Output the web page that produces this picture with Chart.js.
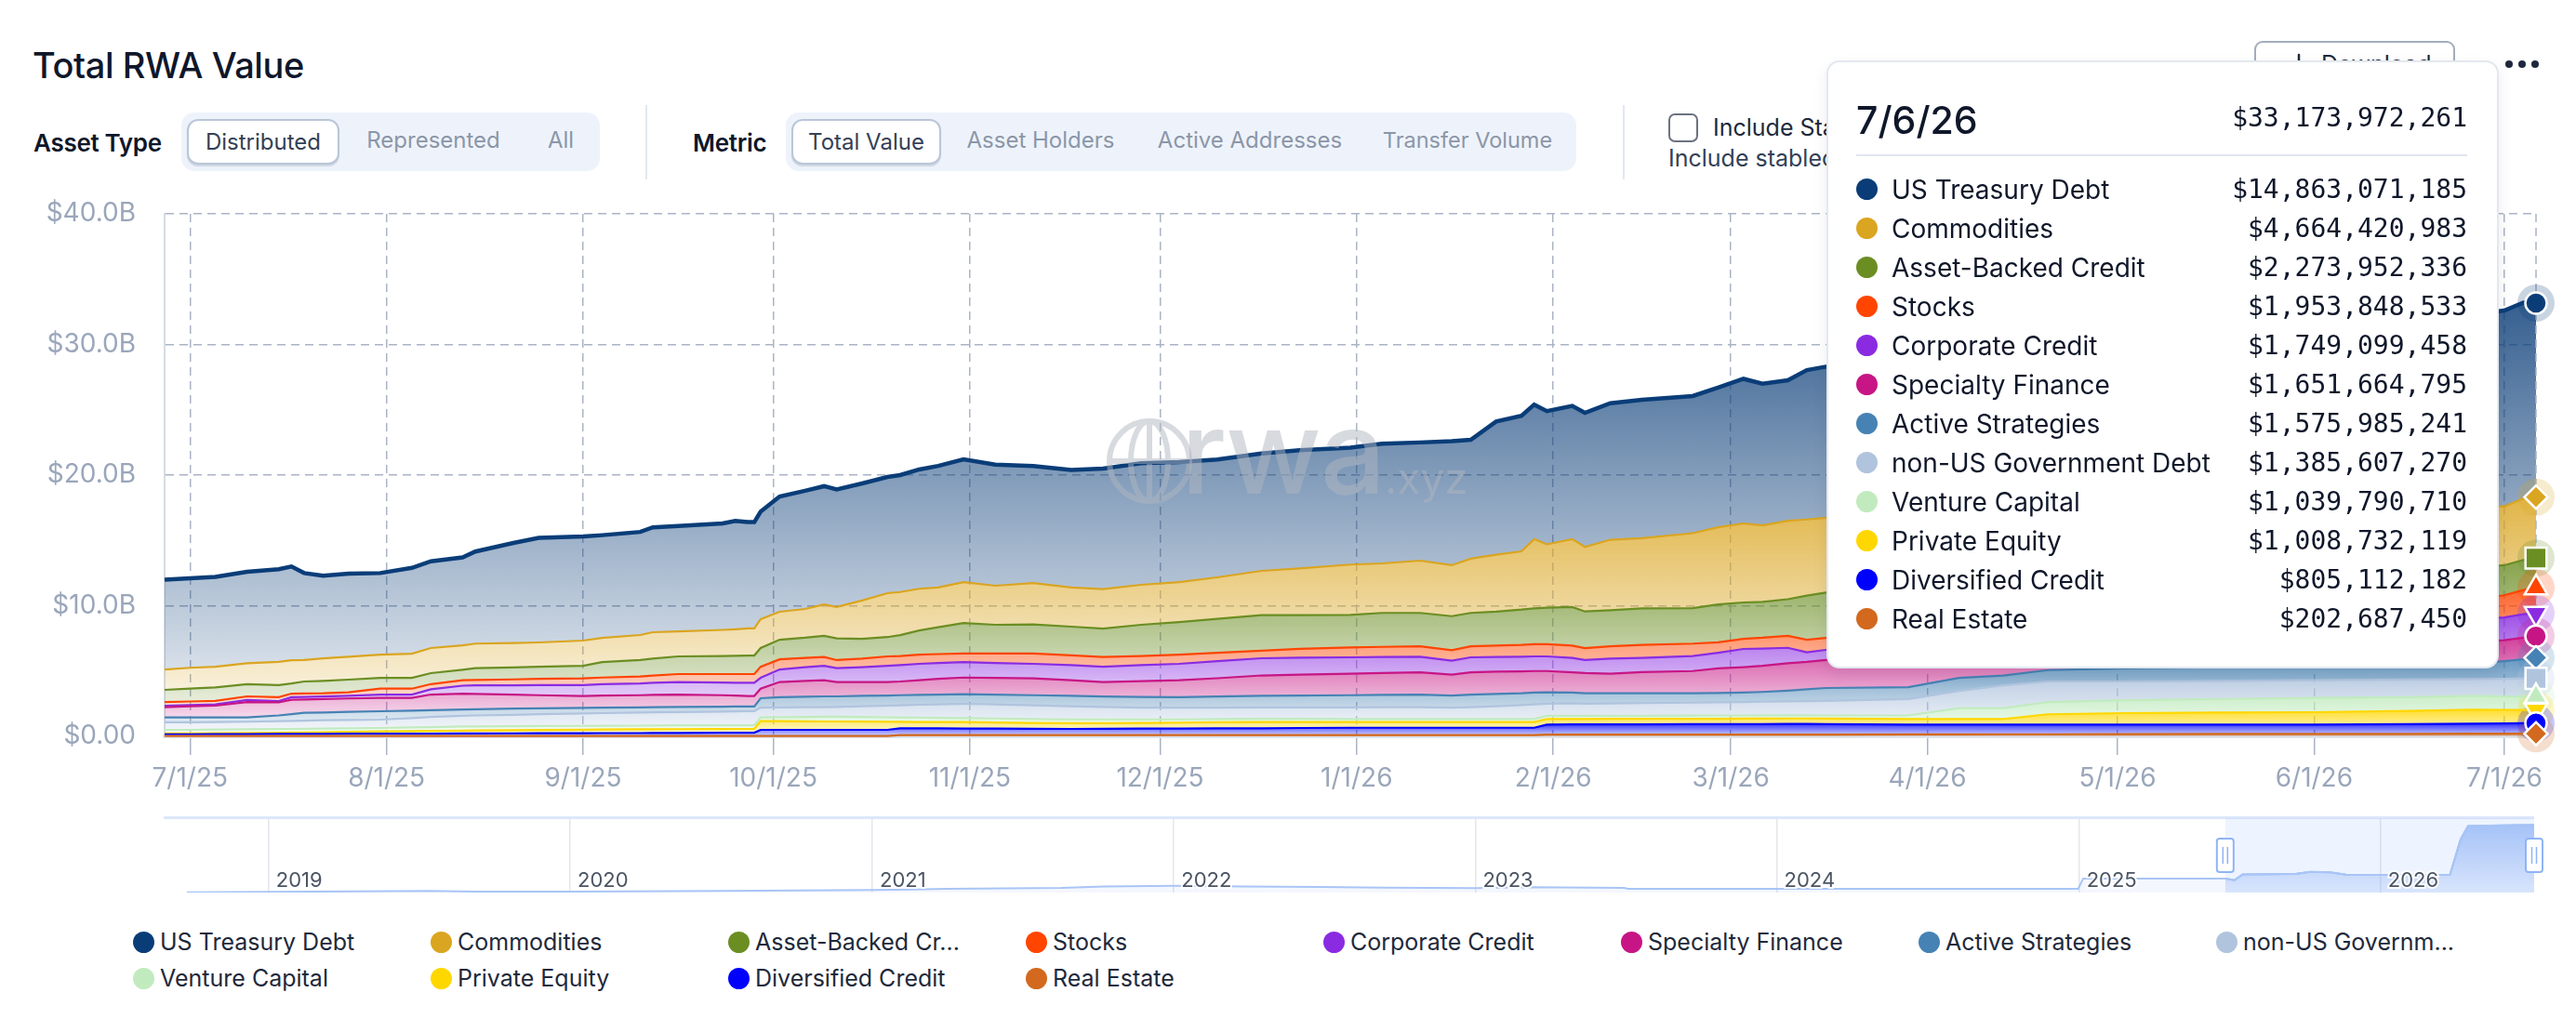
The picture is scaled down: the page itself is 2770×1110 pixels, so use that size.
<!DOCTYPE html>
<html lang="en">
<head>
<meta charset="utf-8">
<title>Total RWA Value</title>
<script src="https://cdn.jsdelivr.net/npm/chart.js@4.4.1/dist/chart.umd.min.js"></script>
<style>
*{box-sizing:border-box;}
html,body{margin:0;padding:0;background:#ffffff;}
body{width:2770px;height:1110px;position:relative;overflow:hidden;font-family:Inter,"Noto Sans",sans-serif;color:#0f172a;}
.a{position:absolute;white-space:nowrap;}
#title{left:35px;top:42px;font-size:38px;line-height:56px;font-weight:500;letter-spacing:-0.4px;color:#0f172a;}
.lab{top:139px;font-size:26px;line-height:30px;font-weight:600;color:#0f172a;letter-spacing:-0.3px;}
.grp{top:121px;height:63px;background:#eef3fb;border-radius:14px;}
.seg{position:absolute;top:7px;height:49px;line-height:46px;font-size:24px;color:#8b96a8;text-align:center;white-space:nowrap;}
.seg.off{transform:translateX(-50%);}
.seg.on{background:#fff;border:2px solid #bac6d8;border-radius:12px;color:#334155;box-shadow:0 2px 1px rgba(100,116,139,.22);}
.vsep{top:113px;width:2px;height:80px;background:#e2e8f0;}
#chk{left:1794px;top:122px;width:32px;height:31px;border:2.5px solid #6b7280;border-radius:7px;background:#fff;}
.inc{font-size:25px;line-height:30px;color:#1e293b;}
#dl{left:2424px;top:44px;width:216px;height:50px;border:2px solid #a3adbd;border-radius:9px;background:#fff;font-size:25px;line-height:46px;color:#1e293b;padding-left:70px;}
#dl svg{position:absolute;left:34px;top:11px;}
.dot3{width:8px;height:8px;border-radius:50%;background:#1e293b;top:65px;}
#main{left:0;top:200px;width:2770px;height:660px;}
#mini{left:0;top:870px;width:2770px;height:100px;}
#slTop{left:176px;top:878px;width:2549px;height:3px;background:#dce7fb;}
#wm{left:1270px;top:424px;font-family:Inter,sans-serif;color:rgba(176,182,192,0.5);pointer-events:none;}
#wm .r{font-size:124px;line-height:124px;font-weight:500;letter-spacing:-1px;}
#wm .x{font-size:46px;line-height:46px;font-weight:400;}
#globe{left:1186px;top:446px;pointer-events:none;}
#tip{left:1964px;top:65px;width:723px;height:654px;background:#fff;border:2px solid #e3e8ef;border-radius:14px;box-shadow:0 6px 16px rgba(15,23,42,.08);z-index:10;}
#tipDate{position:absolute;left:30px;top:37px;font-size:41px;line-height:50px;font-weight:500;color:#0f172a;}
#tipTotal{position:absolute;right:32px;top:42px;font-family:"DejaVu Sans Mono",monospace;font-size:28px;line-height:36px;color:#0f172a;}
#tipSep{position:absolute;left:30px;right:32px;top:99px;height:2px;background:#dfe6ef;}
.trow{position:absolute;left:30px;right:32px;height:36px;line-height:36px;}
.tdot{position:absolute;left:0;top:6px;width:23px;height:23px;border-radius:50%;}
.tname{position:absolute;left:38px;top:0;font-size:28px;color:#0f172a;}
.tval{position:absolute;right:0;top:0;font-family:"DejaVu Sans Mono",monospace;font-size:28px;color:#0f172a;}
.li{position:absolute;height:30px;line-height:30px;white-space:nowrap;}
.ldot{position:absolute;left:0;top:3.5px;width:23px;height:23px;border-radius:50%;}
.ltxt{position:absolute;left:29px;top:0;font-size:25px;color:#1e293b;}
</style>
</head>
<body>
<div id="title" class="a">Total RWA Value</div>

<div class="a lab" style="left:36px;">Asset Type</div>
<div class="a grp" style="left:195px;width:450px;">
  <div class="seg on" style="left:6px;width:164px;">Distributed</div>
  <div class="seg off" style="left:271px;">Represented</div>
  <div class="seg off" style="left:408px;">All</div>
</div>
<div class="a vsep" style="left:694px;"></div>
<div class="a lab" style="left:745px;">Metric</div>
<div class="a grp" style="left:845px;width:850px;">
  <div class="seg on" style="left:6px;width:161px;">Total Value</div>
  <div class="seg off" style="left:274px;">Asset Holders</div>
  <div class="seg off" style="left:499px;">Active Addresses</div>
  <div class="seg off" style="left:733px;font-size:23.5px;">Transfer Volume</div>
</div>
<div class="a vsep" style="left:1745px;"></div>
<div id="chk" class="a"></div>
<div class="a inc" style="left:1842px;top:122px;">Include Stablecoins</div>
<div class="a inc" style="left:1794px;top:155px;color:#334155;">Include stablecoins in total value</div>
<div id="dl" class="a"><svg width="24" height="28" viewBox="0 0 24 28"><g fill="none" stroke="#1e293b" stroke-width="2.5" stroke-linecap="round"><line x1="12" y1="2" x2="12" y2="18"/><polyline points="5,12 12,19 19,12"/><line x1="3" y1="25" x2="21" y2="25"/></g></svg>Download</div>
<div class="a dot3" style="left:2694px;"></div>
<div class="a dot3" style="left:2708px;"></div>
<div class="a dot3" style="left:2722px;"></div>

<div id="main" class="a"><canvas id="c1"></canvas></div>

<svg id="globe" class="a" width="100" height="100" viewBox="0 0 100 100"><g opacity="0.5" fill="none" stroke="#b0b6c0" stroke-width="6"><circle cx="50" cy="50" r="43"/><ellipse cx="50" cy="50" rx="20" ry="43"/><line x1="50" y1="7" x2="50" y2="93"/><line x1="7" y1="50" x2="93" y2="50"/></g></svg>
<div id="wm" class="a"><span class="r">rwa</span><span class="x">.xyz</span></div>

<div id="slTop" class="a"></div>
<div id="mini" class="a"><canvas id="c2"></canvas></div>

<div id="tip" class="a">
  <div id="tipDate"></div>
  <div id="tipTotal"></div>
  <div id="tipSep"></div>
  <div id="tipRows"></div>
</div>

<div id="legend"></div>

<script>
// ---------------- DATA ----------------
const DATES = [
'2025-06-27','2025-07-01','2025-07-05','2025-07-10','2025-07-15','2025-07-17','2025-07-19','2025-07-22','2025-07-26','2025-07-31',
'2025-08-05','2025-08-08','2025-08-13','2025-08-15','2025-08-21','2025-08-25','2025-09-01','2025-09-04','2025-09-10','2025-09-12',
'2025-09-16','2025-09-23','2025-09-25','2025-09-27','2025-09-28','2025-09-29','2025-10-02','2025-10-06','2025-10-09','2025-10-11',
'2025-10-15','2025-10-19','2025-10-21','2025-10-24','2025-10-27','2025-10-31','2025-11-05','2025-11-11','2025-11-17','2025-11-22',
'2025-11-28','2025-12-04','2025-12-10','2025-12-17','2025-12-23','2025-12-31','2026-01-05','2026-01-11','2026-01-16','2026-01-19',
'2026-01-23','2026-01-27','2026-01-29','2026-01-31','2026-02-04','2026-02-06','2026-02-10','2026-02-15','2026-02-23','2026-02-27',
'2026-03-03','2026-03-06','2026-03-10','2026-03-13','2026-03-16','2026-03-29','2026-04-06','2026-04-13','2026-04-20','2026-05-02',
'2026-05-17','2026-06-01','2026-06-16','2026-06-26','2026-07-01','2026-07-04','2026-07-06'];

// values in billions of USD
const US_TREASURY_DEBT = [
6.88,6.85,6.87,7.00,7.10,7.17,6.65,6.33,6.35,6.24,
6.57,6.64,6.73,7.05,7.65,8.01,7.97,7.86,7.89,8.03,
8.06,8.15,8.30,8.14,8.14,8.23,8.82,9.05,9.05,9.00,
8.96,8.90,8.95,9.13,9.30,9.40,9.27,8.96,9.00,9.23,
9.30,9.20,9.03,8.98,9.05,8.95,9.16,9.05,9.50,9.10,
10.20,10.39,10.30,10.20,10.20,10.27,10.45,10.60,10.50,10.70,
11.07,10.85,10.76,11.44,11.57,11.70,11.95,12.25,12.45,12.85,
13.30,13.85,14.40,14.75,15.00,15.00,14.863071185];
const COMMODITIES = [
1.56,1.60,1.58,1.60,1.77,1.78,1.65,1.72,1.76,1.78,
1.85,1.92,1.87,1.88,1.87,1.86,1.93,1.85,1.92,2.02,
1.92,2.00,2.03,2.07,2.07,2.21,2.14,2.20,2.40,2.40,
2.93,3.36,3.30,3.20,3.05,3.12,2.99,3.17,3.00,3.02,
3.06,3.05,3.17,3.39,3.57,3.85,3.79,4.00,3.90,4.15,
4.35,4.46,5.30,4.85,5.20,4.94,5.40,5.38,5.73,5.90,
6.05,5.85,6.00,5.83,5.73,5.60,5.55,5.45,5.35,5.25,
5.10,4.95,4.80,4.65,4.50,4.70,4.664420983];
const ASSET_BACKED_CREDIT = [
0.93,0.98,1.03,0.94,0.93,0.78,0.92,0.95,0.97,0.83,
0.83,0.84,0.80,0.90,0.92,0.93,0.96,1.19,1.26,1.30,
1.35,1.38,1.40,1.42,1.42,1.43,1.50,1.55,1.63,1.66,
1.52,1.48,1.60,1.84,2.05,2.33,2.19,2.22,2.20,2.18,
2.39,2.49,2.60,2.73,2.58,2.50,2.60,2.55,2.60,2.55,
2.60,2.70,2.75,2.80,2.95,2.80,2.75,2.79,2.72,2.90,
2.78,2.75,2.80,3.37,3.46,3.50,3.50,3.50,3.50,3.40,
3.20,2.90,2.60,2.40,2.30,2.30,2.273952336];
const STOCKS = [
0.28,0.27,0.27,0.28,0.30,0.27,0.26,0.25,0.27,0.45,
0.45,0.40,0.42,0.42,0.46,0.48,0.51,0.50,0.53,0.55,
0.61,0.65,0.67,0.67,0.67,0.85,0.78,0.70,0.67,0.62,
0.65,0.72,0.70,0.71,0.68,0.66,0.73,0.80,0.75,0.74,
0.70,0.71,0.65,0.57,0.68,0.75,0.77,0.80,0.81,0.85,
0.87,0.90,0.93,0.93,0.95,0.92,0.95,1.00,0.95,0.80,
0.78,0.83,0.92,0.97,0.92,1.00,1.00,1.10,1.20,1.20,
1.20,1.30,1.40,1.50,1.70,1.85,1.953848533];
const CORPORATE_CREDIT = [
0.11,0.10,0.10,0.15,0.10,0.20,0.20,0.20,0.20,0.25,
0.25,0.40,0.61,0.65,0.70,0.77,0.84,0.88,0.90,0.92,
0.96,0.97,0.98,1.01,1.01,0.83,0.96,1.05,1.10,1.06,
1.14,1.24,1.25,1.25,1.22,1.19,1.15,1.11,1.15,1.17,
1.23,1.25,1.30,1.32,1.30,1.25,1.23,1.20,1.07,1.15,
1.13,1.12,1.12,1.12,1.10,0.99,1.15,1.08,1.15,1.20,
1.39,1.32,1.18,0.73,0.78,0.80,0.80,0.80,0.80,0.90,
1.10,1.30,1.50,1.70,1.74,1.80,1.749099458];
const SPECIALTY_FINANCE = [
0.79,0.85,0.90,1.18,1.00,1.10,1.02,1.02,1.02,1.03,
0.98,1.20,1.21,1.17,1.08,1.00,0.91,0.92,0.93,0.95,
0.95,0.88,0.84,0.81,0.81,0.73,1.16,1.21,1.24,1.10,
1.06,1.04,1.05,1.12,1.20,1.27,1.27,1.29,1.20,1.11,
1.20,1.30,1.40,1.56,1.60,1.65,1.68,1.70,1.60,1.70,
1.70,1.68,1.65,1.63,1.55,1.55,1.50,1.62,1.70,1.88,
1.95,2.00,2.10,2.10,2.14,2.23,1.72,1.65,1.33,1.40,
1.50,1.60,1.70,1.70,1.60,1.65,1.651664795];
const ACTIVE_STRATEGIES = [
0.38,0.37,0.35,0.33,0.44,0.52,0.60,0.60,0.63,0.64,
0.57,0.52,0.49,0.48,0.47,0.45,0.43,0.42,0.40,0.39,
0.39,0.37,0.37,0.36,0.36,0.72,0.78,0.81,0.82,0.81,
0.80,0.77,0.77,0.76,0.75,0.74,0.75,0.77,0.80,0.80,
0.82,0.80,0.85,0.89,0.90,0.93,0.94,0.96,0.92,0.96,
0.95,0.90,0.90,0.87,0.82,0.80,0.78,0.75,0.72,0.72,
0.72,0.75,0.82,0.90,0.98,0.91,1.00,0.75,0.87,1.00,
1.05,1.10,1.15,1.22,1.36,1.48,1.575985241];
const NON_US_GOVERNMENT_DEBT = [
0.57,0.58,0.58,0.58,0.60,0.61,0.62,0.63,0.63,0.64,
0.72,0.78,0.82,0.84,0.87,0.91,0.95,0.97,1.00,1.01,
1.02,1.05,1.06,1.07,1.07,0.75,0.75,0.74,0.74,0.75,
0.82,0.89,0.93,0.98,1.03,1.09,1.08,1.05,1.00,0.95,
0.90,0.90,0.88,0.86,0.88,0.89,0.90,0.91,0.87,0.91,
0.97,1.07,1.12,0.93,0.96,0.93,0.94,0.97,0.99,1.00,
1.03,1.04,1.07,1.09,1.12,1.26,1.32,1.74,1.57,1.43,
1.40,1.36,1.35,1.28,1.35,1.37,1.385607270];
const VENTURE_CAPITAL = [
0.28,0.27,0.28,0.28,0.28,0.28,0.28,0.28,0.27,0.26,
0.28,0.28,0.31,0.31,0.31,0.30,0.29,0.29,0.28,0.29,
0.29,0.29,0.28,0.28,0.28,0.29,0.31,0.34,0.36,0.36,
0.35,0.34,0.34,0.34,0.32,0.31,0.31,0.30,0.30,0.29,
0.27,0.25,0.25,0.26,0.25,0.24,0.24,0.24,0.24,0.24,
0.24,0.24,0.24,0.24,0.24,0.24,0.24,0.24,0.24,0.25,
0.24,0.25,0.24,0.24,0.24,0.27,0.83,0.83,0.94,0.99,
1.03,1.09,1.05,1.06,1.02,1.03,1.039790710];
const PRIVATE_EQUITY = [
0.06,0.07,0.07,0.09,0.10,0.11,0.12,0.13,0.15,0.18,
0.19,0.21,0.22,0.23,0.24,0.25,0.27,0.27,0.29,0.28,
0.29,0.29,0.29,0.29,0.29,0.66,0.66,0.65,0.64,0.64,
0.63,0.62,0.49,0.48,0.49,0.49,0.47,0.45,0.43,0.43,
0.44,0.45,0.46,0.47,0.45,0.43,0.43,0.43,0.43,0.43,
0.43,0.43,0.43,0.43,0.42,0.42,0.42,0.42,0.42,0.42,
0.42,0.42,0.42,0.42,0.42,0.43,0.43,0.43,0.79,0.88,
0.92,0.95,1.02,1.07,1.04,1.02,1.008732119];
const DIVERSIFIED_CREDIT = [
0.13,0.13,0.14,0.14,0.15,0.15,0.15,0.16,0.17,0.17,
0.18,0.18,0.19,0.19,0.20,0.21,0.21,0.22,0.22,0.23,
0.23,0.24,0.25,0.25,0.25,0.47,0.47,0.47,0.47,0.47,
0.47,0.47,0.52,0.52,0.51,0.50,0.49,0.48,0.47,0.48,
0.49,0.50,0.51,0.52,0.54,0.56,0.56,0.56,0.56,0.56,
0.56,0.56,0.56,0.76,0.77,0.77,0.78,0.78,0.79,0.79,
0.80,0.80,0.81,0.81,0.80,0.75,0.75,0.74,0.74,0.73,
0.72,0.71,0.74,0.77,0.79,0.80,0.805112182];
const REAL_ESTATE = [
0.03,0.03,0.03,0.03,0.03,0.03,0.03,0.03,0.03,0.03,
0.03,0.03,0.03,0.03,0.03,0.03,0.03,0.03,0.03,0.03,
0.03,0.03,0.03,0.03,0.03,0.03,0.03,0.03,0.03,0.03,
0.03,0.03,0.10,0.10,0.10,0.10,0.10,0.10,0.10,0.10,
0.10,0.10,0.10,0.10,0.10,0.10,0.10,0.10,0.10,0.10,
0.10,0.10,0.10,0.14,0.14,0.14,0.14,0.14,0.14,0.14,
0.14,0.14,0.14,0.14,0.14,0.15,0.15,0.16,0.16,0.17,
0.18,0.19,0.19,0.20,0.20,0.20,0.202687450];

const SERIES_NAMES = ['US Treasury Debt','Commodities','Asset-Backed Credit','Stocks','Corporate Credit','Specialty Finance','Active Strategies','non-US Government Debt','Venture Capital','Private Equity','Diversified Credit','Real Estate'];
const SERIES_VALUES = [US_TREASURY_DEBT, COMMODITIES, ASSET_BACKED_CREDIT, STOCKS, CORPORATE_CREDIT, SPECIALTY_FINANCE, ACTIVE_STRATEGIES, NON_US_GOVERNMENT_DEBT, VENTURE_CAPITAL, PRIVATE_EQUITY, DIVERSIFIED_CREDIT, REAL_ESTATE];

const X_TICKS = ['2025-07-01','2025-08-01','2025-09-01','2025-10-01','2025-11-01','2025-12-01','2026-01-01','2026-02-01','2026-03-01','2026-04-01','2026-05-01','2026-06-01','2026-07-01'];
const X_TICK_LABELS = ['7/1/25','8/1/25','9/1/25','10/1/25','11/1/25','12/1/25','1/1/26','2/1/26','3/1/26','4/1/26','5/1/26','6/1/26','7/1/26'];
const Y_TICKS = [0,10,20,30,40];
const Y_TICK_LABELS = ['$0.00','$10.0B','$20.0B','$30.0B','$40.0B'];

const TOOLTIP_DATE_LABEL = '7/6/26';
const TOOLTIP_TOTAL = 33173972261;

// overview (slider) series
const MINI_DATES = ['2018-09-24','2019-01-01','2019-07-16','2019-09-08','2020-01-04','2020-07-01','2021-01-01','2021-02-14','2021-04-01','2021-08-18','2021-10-08','2022-01-01','2022-03-28','2022-06-28','2022-09-13','2023-01-01','2023-03-10','2023-06-30','2023-07-05','2024-06-30','2024-12-31','2025-01-06','2025-06-27','2025-07-08','2025-07-18','2025-09-20','2025-10-08','2025-11-01','2025-11-20','2026-01-01','2026-03-26','2026-04-08','2026-04-17','2026-05-28','2026-07-06'];
const MINI_VALUES = [0.1,0.3,0.8,0.45,0.45,0.75,1.2,1.5,1.8,2.3,3.0,3.3,3.0,2.7,2.4,2.1,2.6,2.3,1.8,1.8,1.8,6.8,6.8,6.0,8.8,9.1,10.1,9.9,8.7,8.6,8.6,26.0,32.5,32.8,33.0];
const MINI_RANGE = ['2018-08-27','2026-07-06'];
const MINI_YEARS = ['2019','2020','2021','2022','2023','2024','2025','2026'];

// ---------------- STYLE ----------------
const SERIES_COLORS = ['#0a3d78','#daa520','#6b8e23','#ff4500','#8a2be2','#c71585','#4682b4','#b0c4de','#c1ebbf','#ffd700','#0000ff','#d2691e'];
const MARKER_STYLES = ['circle','rectRot','rect','triangle','triangle','circle','rectRot','rect','triangle','triangle','circle','rectRot'];
const MARKER_ROT = [0,0,0,0,180,0,0,0,0,180,0,0];
const MARKER_R = {circle:11.5, rectRot:12.5, rect:16, triangle:14};

function rgba(hex, a){
  const n = parseInt(hex.slice(1),16);
  return 'rgba(' + ((n>>16)&255) + ',' + ((n>>8)&255) + ',' + (n&255) + ',' + a + ')';
}
const toDay = s => Date.UTC(+s.slice(0,4), +s.slice(5,7)-1, +s.slice(8,10)) / 864e5;
const X = DATES.map(toDay);
const LAST = DATES.length - 1;

// stacking order: bottom (Real Estate) first
const ORDER = [];
for (let k = SERIES_NAMES.length - 1; k >= 0; k--) ORDER.push(k);
const CUM = [];
ORDER.forEach((k, i) => {
  CUM.push(SERIES_VALUES[k].map((v, j) => v + (i ? CUM[i-1][j] : 0)));
});

function fillFor(i, color){
  return (c) => {
    const chart = c.chart;
    if (!chart.chartArea) return rgba(color, 0.4);
    const ys = chart.scales.y;
    const yTop = ys.getPixelForValue(Math.max(...CUM[i]));
    const yBot = ys.getPixelForValue(i ? Math.min(...CUM[i-1]) : 0);
    const g = chart.ctx.createLinearGradient(0, yTop, 0, Math.max(yBot, yTop + 1));
    g.addColorStop(0, rgba(color, 0.82));
    g.addColorStop(1, rgba(color, 0.16));
    return g;
  };
}

const datasets = ORDER.map((k, i) => {
  const color = SERIES_COLORS[k];
  const st = MARKER_STYLES[k];
  return {
    label: SERIES_NAMES[k],
    data: SERIES_VALUES[k].map((v, j) => ({x: X[j], y: v})),
    borderColor: color,
    borderWidth: k === 0 ? 4.5 : 2.2,
    backgroundColor: fillFor(i, color),
    fill: i === 0 ? 'origin' : '-1',
    tension: 0,
    clip: false,
    pointStyle: st,
    pointRotation: MARKER_ROT[k],
    pointBackgroundColor: color,
    pointBorderColor: '#ffffff',
    pointBorderWidth: 2.5,
    pointRadius: (c) => c.dataIndex === LAST ? MARKER_R[st] : 0,
    pointHoverRadius: 0
  };
});

const markerPlugin = {
  id: 'markerHalo',
  beforeDatasetsDraw(chart){
    const {ctx, chartArea} = chart;
    const x = chart.scales.x.getPixelForValue(X[LAST]);
    ctx.save();
    ctx.strokeStyle = '#aab4c5'; ctx.lineWidth = 1.5; ctx.setLineDash([9,6]);
    ctx.beginPath(); ctx.moveTo(x, chartArea.top); ctx.lineTo(x, chartArea.bottom); ctx.stroke();
    ctx.setLineDash([]);
    for (let i = chart.data.datasets.length - 1; i >= 0; i--) {
      const el = chart.getDatasetMeta(i).data[LAST];
      if (!el) continue;
      ctx.fillStyle = rgba(chart.data.datasets[i].borderColor, 0.22);
      ctx.beginPath(); ctx.arc(el.x, el.y, 20, 0, Math.PI*2); ctx.fill();
    }
    ctx.restore();
  }
};

Chart.defaults.font.family = 'Inter';
new Chart(document.getElementById('c1'), {
  type: 'line',
  data: { datasets },
  options: {
    responsive: true, maintainAspectRatio: false, animation: false, devicePixelRatio: 1,
    events: [],
    layout: { padding: { top: 30, right: 43, left: 0, bottom: 0 } },
    plugins: { legend: {display:false}, tooltip: {enabled:false}, filler: {drawTime: 'beforeDatasetsDraw'} },
    scales: {
      x: {
        type: 'linear', min: X[0], max: X[LAST],
        afterBuildTicks: s => { s.ticks = X_TICKS.map(d => ({value: toDay(d)})); },
        afterFit: s => { s.height = 68; s.paddingLeft = 0; s.paddingRight = 0; },
        ticks: { autoSkip:false, maxRotation:0, padding:9, color:'#9aa6ba', font:{size:28}, callback: (v, i) => X_TICK_LABELS[i] },
        grid: { color:'#aab4c5', lineWidth:1.5, drawTicks:true, tickLength:20, tickColor:'#aab4c5', tickWidth:1.5, tickBorderDash:[] },
        border: { display:true, color:'#dde3ec', width:4, dash:[9,6] }
      },
      y: {
        stacked: true, min: 0, max: 40,
        afterBuildTicks: s => { s.ticks = Y_TICKS.map(v => ({value: v})); },
        afterFit: s => { s.width = 177; s.paddingTop = 0; s.paddingBottom = 0; },
        ticks: { padding:31, color:'#9aa6ba', font:{size:28}, callback: (v, i) => Y_TICK_LABELS[i] },
        grid: { color:'#aab4c5', lineWidth:1.5, drawTicks:false },
        border: { display:true, color:'#d5dbe4', width:2, dash:[9,6] }
      }
    }
  },
  plugins: [markerPlugin]
});

// ---------------- overview slider ----------------
const miniAll = MINI_DATES.map((d, i) => ({x: toDay(d), y: MINI_VALUES[i]}));
const selStart = X[0], selEnd = X[LAST];
const miniSel = miniAll.filter(p => p.x >= selStart);
const sliderPlugin = {
  id: 'slider',
  beforeDatasetsDraw(chart){
    const {ctx, chartArea: a} = chart; const xs = chart.scales.x;
    const x0 = xs.getPixelForValue(selStart), x1 = xs.getPixelForValue(selEnd);
    ctx.save(); ctx.fillStyle = 'rgba(135,175,255,0.14)';
    ctx.fillRect(x0, a.top, x1 - x0, a.bottom - a.top); ctx.restore();
  },
  afterDatasetsDraw(chart){
    const {ctx, chartArea: a} = chart; const xs = chart.scales.x;
    ctx.save();
    ctx.font = '22px Inter'; ctx.textBaseline = 'middle';
    MINI_YEARS.forEach(y => {
      const x = xs.getPixelForValue(toDay(y + '-01-01')) + 8;
      ctx.lineWidth = 4; ctx.strokeStyle = 'rgba(255,255,255,0.9)'; ctx.strokeText(y, x, a.bottom - 13);
      ctx.fillStyle = '#4b5563'; ctx.fillText(y, x, a.bottom - 13);
    });
    [selStart, selEnd].forEach(v => {
      const x = xs.getPixelForValue(v);
      ctx.fillStyle = '#ffffff'; ctx.strokeStyle = '#8fb4f5'; ctx.lineWidth = 2;
      ctx.beginPath(); ctx.roundRect(x - 9, a.top + 22, 18, 36, 3); ctx.fill(); ctx.stroke();
      ctx.lineWidth = 1.5; ctx.beginPath();
      ctx.moveTo(x - 2.5, a.top + 31); ctx.lineTo(x - 2.5, a.top + 49);
      ctx.moveTo(x + 2.5, a.top + 31); ctx.lineTo(x + 2.5, a.top + 49);
      ctx.stroke();
    });
    ctx.restore();
  }
};
new Chart(document.getElementById('c2'), {
  type: 'line',
  data: { datasets: [
    { data: miniAll, borderColor:'#a9c5f6', borderWidth:2, pointRadius:0, fill:'origin', backgroundColor:'rgba(143,180,245,0.10)', tension:0 },
    { data: miniSel, borderColor:'#8fb4f5', borderWidth:2, pointRadius:0, fill:'origin', tension:0,
      backgroundColor: (c) => { const a = c.chart.chartArea; if (!a) return 'rgba(143,180,245,0.4)';
        const g = c.chart.ctx.createLinearGradient(0, a.top, 0, a.bottom);
        g.addColorStop(0, 'rgba(143,180,245,0.8)'); g.addColorStop(1, 'rgba(143,180,245,0.15)'); return g; } }
  ]},
  options: {
    responsive: true, maintainAspectRatio: false, animation: false, devicePixelRatio: 1, events: [],
    layout: { padding: { left: 176, right: 45, top: 10, bottom: 10 } },
    plugins: { legend: {display:false}, tooltip: {enabled:false} },
    scales: {
      x: { type:'linear', min: toDay(MINI_RANGE[0]), max: toDay(MINI_RANGE[1]),
           afterBuildTicks: s => { s.ticks = MINI_YEARS.map(y => ({value: toDay(y + '-01-01')})); },
           afterFit: s => { s.height = 0; s.paddingLeft = 0; s.paddingRight = 0; },
           ticks: { display:false }, grid: { color:'#e3e6eb', lineWidth:1.5, drawTicks:false }, border: { display:false } },
      y: { display:false, min:0, max:36.3 }
    }
  },
  plugins: [sliderPlugin]
});

// ---------------- tooltip box ----------------
const fmt = v => '$' + Math.round(v).toLocaleString('en-US');
document.getElementById('tipDate').textContent = TOOLTIP_DATE_LABEL;
document.getElementById('tipTotal').textContent = fmt(TOOLTIP_TOTAL);
const rowsEl = document.getElementById('tipRows');
SERIES_NAMES.forEach((name, k) => {
  const r = document.createElement('div'); r.className = 'trow'; r.style.top = (119 + k * 42) + 'px';
  r.innerHTML = '<div class="tdot" style="background:' + SERIES_COLORS[k] + '"></div><div class="tname"></div><div class="tval"></div>';
  r.querySelector('.tname').textContent = name;
  r.querySelector('.tval').textContent = fmt(SERIES_VALUES[k][LAST] * 1e9);
  rowsEl.appendChild(r);
});

// ---------------- legend ----------------
const mctx = document.createElement('canvas').getContext('2d');
mctx.font = '25px Inter';
function trunc(t, maxW){
  if (mctx.measureText(t).width <= maxW) return t;
  let s = t;
  while (s.length > 1 && mctx.measureText(s + '...').width > maxW) s = s.slice(0, -1);
  return s + '...';
}
const legEl = document.getElementById('legend');
SERIES_NAMES.forEach((name, k) => {
  const row = Math.floor(k / 8), col = k % 8;
  const it = document.createElement('div'); it.className = 'li';
  it.style.left = (143 + col * 320) + 'px'; it.style.top = (row ? 1037 : 998) + 'px';
  it.innerHTML = '<div class="ldot" style="background:' + SERIES_COLORS[k] + '"></div><div class="ltxt"></div>';
  it.querySelector('.ltxt').textContent = trunc(name, 228);
  legEl.appendChild(it);
});
</script>
</body>
</html>
